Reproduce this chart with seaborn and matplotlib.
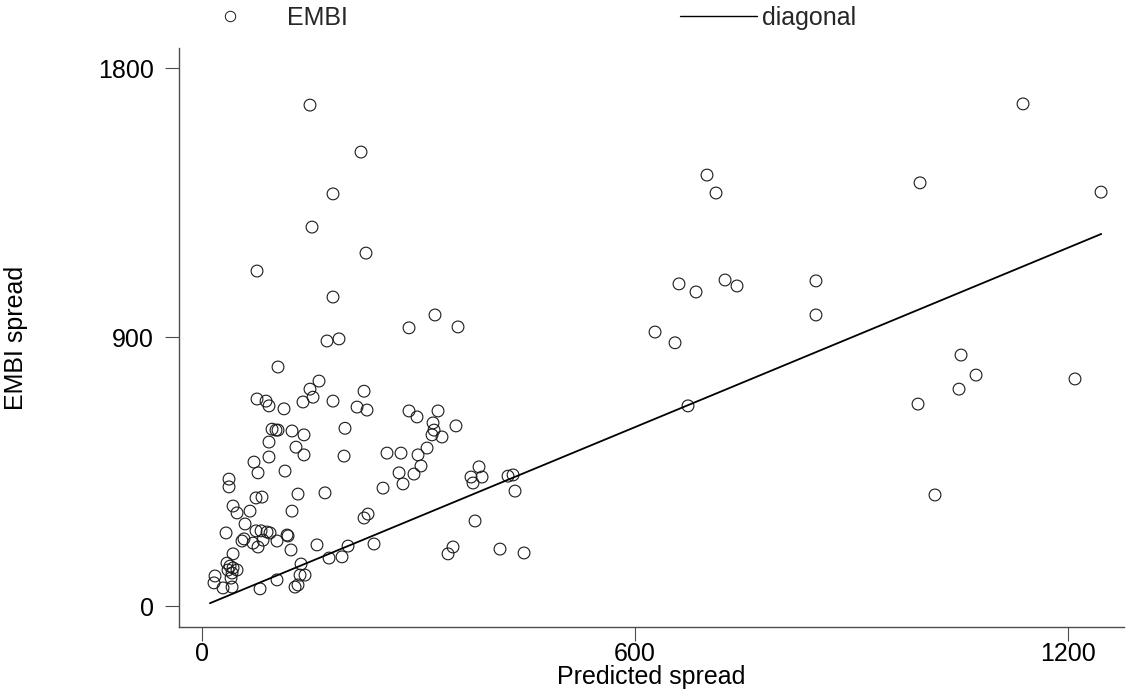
import matplotlib
matplotlib.use("Agg")
import matplotlib.pyplot as plt
from matplotlib.lines import Line2D
import seaborn as sns
import pandas as pd

# Predicted spread (x) and EMBI spread (y)
predicted = [
    149.6, 220.3, 181.5, 152.4, 227.2, 76.2, 181.5, 173.2, 189.8, 286.8,
    322.8, 354.7, 105.3, 162.1, 149.6, 224.5, 153.8, 139.9, 76.2, 88.7,
    92.8, 113.6, 181.5, 214.8, 228.6, 286.8, 297.9, 327.0, 320.1, 321.5,
    318.7, 332.5, 351.9, 198.1, 97.0, 102.5, 105.3, 124.7, 141.3, 92.8,
    130.2, 141.3, 92.8, 72.0, 77.6, 115.0, 196.8, 256.3, 275.7, 311.8,
    299.3, 303.4, 293.7, 273.0, 278.5, 250.8, 37.4, 37.4, 133.0, 170.4,
    74.8, 83.1, 43.0, 48.5, 66.5, 124.7, 230.0, 224.5, 59.6, 33.3,
    74.8, 81.8, 90.1, 94.2, 117.8, 119.2, 55.4, 58.2, 70.7, 77.6,
    84.5, 103.9, 123.3, 159.3, 202.3, 238.3, 43.0, 34.6, 38.8, 43.0,
    48.5, 36.0, 41.6, 18.0, 16.6, 29.1, 40.2, 41.6, 80.4, 103.9,
    137.2, 135.8, 142.7, 128.9, 133.0, 176.0, 194.0, 383.8, 372.7, 388.0,
    375.5, 424.0, 431.0, 433.7, 378.3, 347.8, 340.9, 412.9, 446.2, 699.7,
    712.2, 660.9, 684.5, 724.7, 741.3, 627.7, 655.4, 673.4, 850.7, 850.7,
    994.9, 1137.6, 1245.7, 1051.7, 1072.5, 1048.9, 992.1, 1209.6, 1015.6,
]
embi = [
    1677, 1520, 1380, 1269, 1182, 1122, 1035, 888, 895, 932,
    975, 935, 801, 754, 727, 720, 700, 684, 694, 687,
    671, 661, 687, 667, 657, 654, 634, 654, 614, 590,
    574, 567, 604, 596, 593, 590, 590, 587, 574, 550,
    533, 507, 500, 483, 447, 453, 503, 513, 513, 530,
    507, 470, 443, 447, 410, 396, 426, 400, 376, 380,
    363, 366, 336, 313, 319, 319, 309, 296, 276, 246,
    253, 253, 249, 246, 239, 236, 219, 226, 212, 199,
    222, 219, 189, 206, 202, 209, 176, 145, 135, 129,
    122, 122, 112, 102, 79, 62, 95, 65, 59, 89,
    142, 105, 105, 65, 72, 162, 166, 467, 433, 433,
    413, 436, 440, 386, 286, 199, 176, 192, 179, 1443,
    1383, 1079, 1052, 1092, 1072, 918, 882, 671, 1089, 975,
    1417, 1681, 1386, 841, 774, 727, 677, 761, 373,
]
diag_x = [11, 1246]

x_ticks = [0, 600, 1200]
y_ticks = [0, 900, 1800]

sns.set_theme(style="white")
plt.rcParams["font.family"] = ["Liberation Sans", "DejaVu Sans"]

FS = 18

df = pd.DataFrame({"Predicted spread": predicted, "EMBI spread": embi})
diag = pd.DataFrame({"x": diag_x, "y": diag_x})

fig = plt.figure(figsize=(11.26, 6.92), dpi=100)
ax = fig.add_axes([179 / 1126, 65 / 692, (1124 - 179) / 1126, (627 - 48) / 692])

sns.lineplot(data=diag, x="x", y="y", ax=ax, color="black", linewidth=1.3)
sns.scatterplot(data=df, x="Predicted spread", y="EMBI spread", ax=ax,
                marker="o", s=72, facecolor="none", edgecolor="#1a1a1a",
                linewidth=0.8, legend=False)

ax.set_xlim(-31.9, 1277.5)
ax.set_ylim(-68.6, 1868)
ax.set_xticks(x_ticks)
ax.set_yticks(y_ticks)
ax.set_xticklabels([str(v) for v in x_ticks])
ax.set_yticklabels([str(v) for v in y_ticks])

for side in ["top", "right"]:
    ax.spines[side].set_visible(False)
for side in ["left", "bottom"]:
    ax.spines[side].set_color("#4d4d4d")
    ax.spines[side].set_linewidth(1.0)

ax.tick_params(axis="both", which="major", direction="out", length=10,
               width=0.8, color="#4d4d4d", labelsize=FS, labelcolor="black",
               bottom=True, left=True)
ax.tick_params(axis="y", pad=8)
ax.tick_params(axis="x", pad=1)

ax.set_xlabel("Predicted spread", fontsize=FS, color="black")
ax.set_ylabel("EMBI spread", fontsize=FS, color="black")
ax.xaxis.set_label_coords(0.5, (627 - 665) / 579)
ax.yaxis.set_label_coords((28 - 179) / 945, 0.5)

# Legend: two separate entries placed like the reference
h1 = Line2D([], [], marker="o", linestyle="none", markerfacecolor="none",
            markeredgecolor="#1a1a1a", markersize=7.5, markeredgewidth=0.7)
h2 = Line2D([], [], color="black", linewidth=1.0)
fs_px = FS * 100 / 72
leg1 = fig.legend([h1], ["EMBI"], loc="center left",
                  bbox_to_anchor=(218 / 1126, (692 - 18) / 692),
                  frameon=False, fontsize=FS, handlelength=24 / fs_px,
                  handletextpad=45 / fs_px, borderpad=0, borderaxespad=0)
leg2 = fig.legend([h2], ["diagonal"], loc="center left",
                  bbox_to_anchor=(680 / 1126, (692 - 18) / 692),
                  frameon=False, fontsize=FS, handlelength=77 / fs_px,
                  handletextpad=5 / fs_px, borderpad=0, borderaxespad=0)

fig.savefig("out.png", dpi=100, facecolor="white")
